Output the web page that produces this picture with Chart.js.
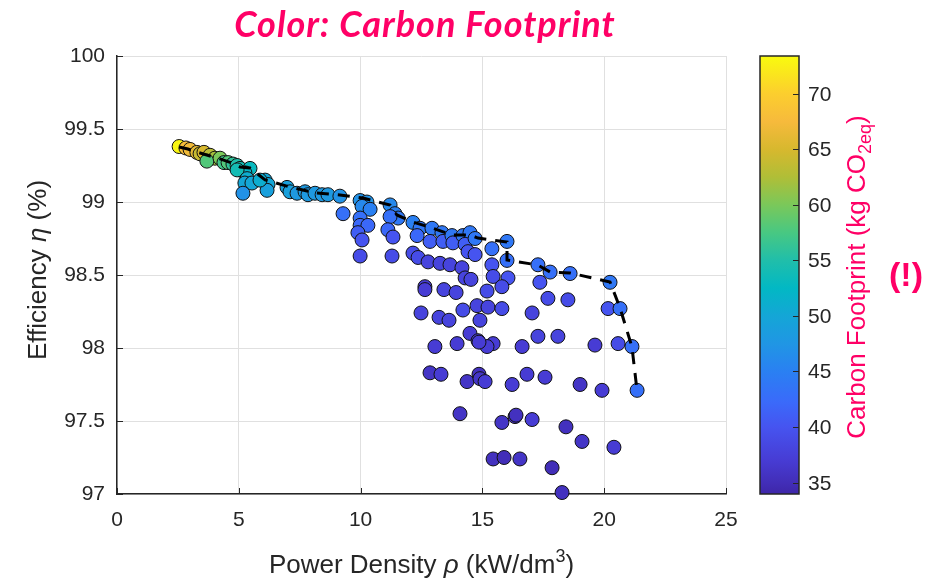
<!DOCTYPE html>
<html>
<head>
<meta charset="utf-8">
<script src="https://cdn.jsdelivr.net/npm/chart.js@4.4.1/dist/chart.umd.min.js"></script>
<style>
  html, body { margin: 0; padding: 0; background: #fff; overflow: hidden; }
  canvas { display: block; }
</style>
</head>
<body>
<canvas id="chart" width="932" height="580"></canvas>
<script>
// Design points: power density (kW/dm3), efficiency (%), carbon footprint (kg CO2eq)
const designDensity = [
  2.55, 2.83, 3.00, 3.28, 3.41, 3.57, 3.82, 4.02, 3.69, 4.23, 4.39, 4.56, 4.76, 4.93, 5.05, 5.46, 5.25, 4.93,
  5.34, 5.25, 5.54, 5.17, 6.08, 6.20, 6.16, 5.87, 6.98, 7.10, 7.39, 7.72, 7.84, 8.13, 8.42, 8.66, 9.15, 9.28,
  9.98, 10.26, 10.06, 10.39, 9.98, 9.98, 10.30, 9.89, 10.06, 9.98, 11.21, 11.41, 11.54, 11.21, 11.12, 11.33, 11.29,
  12.15, 12.44, 12.32, 12.93, 12.85, 13.34, 13.38, 13.75, 13.79, 14.20, 14.49, 14.29, 14.41, 14.70, 14.70,
  12.15, 12.36, 12.77, 13.26, 13.67, 14.16, 14.29, 14.53, 15.39, 15.39, 15.44, 16.01, 16.01, 16.05, 15.80,
  12.64, 12.64, 13.42, 13.92, 12.48, 13.22, 13.63, 14.78, 15.23, 15.80, 14.20, 14.90, 15.19,
  17.28, 17.78, 17.36, 18.60, 17.69, 18.51, 20.24, 20.16, 20.65, 17.04,
  14.49, 14.82, 15.44, 15.19, 13.05, 13.96, 14.86, 16.63, 17.28, 18.10, 19.62, 20.57, 21.14,
  12.85, 13.30, 14.37, 14.86, 14.90, 15.11, 16.22, 16.83, 17.57, 19.01, 19.91, 21.35,
  14.08, 15.80, 16.34, 16.38, 17.04, 18.43, 19.09, 20.40, 15.44, 15.89, 16.54, 17.86, 18.27
];
const designEfficiency = [
  99.38, 99.37, 99.36, 99.34, 99.33, 99.34, 99.32, 99.30, 99.28, 99.30, 99.27, 99.27, 99.26, 99.25, 99.23, 99.23, 99.20, 99.22,
  99.16, 99.13, 99.13, 99.06, 99.15, 99.12, 99.08, 99.15, 99.10, 99.07, 99.06, 99.07, 99.05, 99.06, 99.05, 99.05, 99.04, 98.92,
  99.01, 99.00, 98.97, 98.95, 98.89, 98.84, 98.84, 98.79, 98.74, 98.63, 98.98, 98.92, 98.89, 98.90, 98.81, 98.76, 98.63,
  98.86, 98.82, 98.77, 98.82, 98.73, 98.79, 98.73, 98.77, 98.72, 98.77, 98.79, 98.71, 98.66, 98.75, 98.64,
  98.65, 98.62, 98.59, 98.58, 98.57, 98.55, 98.48, 98.47, 98.68, 98.57, 98.49, 98.73, 98.60, 98.48, 98.42,
  98.42, 98.40, 98.40, 98.38, 98.24, 98.21, 98.19, 98.29, 98.28, 98.27, 98.26, 98.19, 98.39,
  98.57, 98.52, 98.45, 98.51, 98.34, 98.33, 98.45, 98.27, 98.27, 98.24,
  98.10, 98.05, 98.03, 98.01, 98.01, 98.03, 98.04, 98.01, 98.08, 98.08, 98.02, 98.03, 98.01,
  97.83, 97.82, 97.77, 97.82, 97.79, 97.77, 97.75, 97.82, 97.80, 97.75, 97.71, 97.71,
  97.55, 97.49, 97.53, 97.54, 97.51, 97.46, 97.36, 97.32, 97.24, 97.25, 97.24, 97.18, 97.01
];
const designCarbon = [
  73, 68, 67, 66, 64, 65, 63, 62, 58, 60, 57, 58, 56, 55, 54, 53, 52, 54,
  51, 50, 50, 47, 50, 50, 49, 51, 49, 49, 48, 48, 48, 48, 48, 48, 47, 43,
  47, 47, 46, 45, 43, 42, 42, 41, 40, 39, 46, 45, 44, 43, 42, 40, 39,
  45, 44, 42, 44, 41, 44, 41, 44, 41, 44, 44, 41, 40, 44, 40,
  39, 39, 38, 38, 38, 38, 38, 38, 43, 40, 39, 44, 43, 40, 39,
  37, 37, 38, 38, 38, 38, 38, 38, 38, 39, 39, 38, 39,
  43, 43, 40, 43, 39, 39, 44, 40, 43, 38,
  37, 37, 37, 37, 37, 37, 37, 37, 38, 38, 37, 39, 43,
  36, 37, 36, 35.5, 36, 37, 37, 37, 37, 36, 37, 43,
  36, 36, 35.5, 35.5, 37, 35.5, 36, 37, 35.5, 35, 36, 35, 35.5
];

// Pareto front through the best designs
const frontDensity = [
  2.55, 2.91, 3.28, 3.82, 4.23, 4.72, 5.05, 5.46, 6.08, 7.10, 8.13, 9.15, 10.10, 11.21, 11.49,
  12.15, 12.93, 13.75, 14.49, 14.82, 16.01, 16.01, 17.28, 17.78, 18.60, 20.24, 20.65, 21.14, 21.35
];
const frontEfficiency = [
  99.377, 99.363, 99.342, 99.315, 99.295, 99.267, 99.240, 99.233, 99.151, 99.103, 99.062, 99.048, 99.027, 98.979, 98.911,
  98.863, 98.822, 98.774, 98.774, 98.753, 98.726, 98.603, 98.568, 98.521, 98.514, 98.452, 98.274, 98.007, 97.705
];

const xTicks = [0, 5, 10, 15, 20, 25];
const yTicks = [97, 97.5, 98, 98.5, 99, 99.5, 100];
const carbonTicks = [35, 40, 45, 50, 55, 60, 65, 70];
const carbonRange = [33.98, 73.38];

// parula-like colormap, position 0..1 -> rgb
const parulaStops = [
  [0.000, 62, 38, 168], [0.026, 66, 46, 184], [0.077, 71, 60, 212], [0.153, 70, 84, 240],
  [0.210, 58, 106, 250], [0.280, 42, 128, 242], [0.343, 32, 150, 228], [0.407, 20, 166, 214],
  [0.470, 2, 184, 196], [0.533, 32, 190, 170], [0.597, 72, 200, 130], [0.660, 122, 200, 90],
  [0.724, 176, 190, 55], [0.787, 215, 184, 46], [0.850, 246, 186, 60], [0.914, 252, 206, 46],
  [1.000, 249, 251, 14]
];

function parula(v) {
  let t = (v - carbonRange[0]) / (carbonRange[1] - carbonRange[0]);
  t = Math.max(0, Math.min(1, t));
  for (let i = 1; i < parulaStops.length; i++) {
    const a = parulaStops[i - 1], b = parulaStops[i];
    if (t <= b[0]) {
      const f = (t - a[0]) / (b[0] - a[0]);
      const c = [1, 2, 3].map(k => Math.round(a[k] + (b[k] - a[k]) * f));
      return `rgb(${c[0]},${c[1]},${c[2]})`;
    }
  }
  return 'rgb(249,251,14)';
}

const AXIS = '#262626';
const PINK = '#ff0066';
const FONT = '"Liberation Sans", Arial, sans-serif';

// draws text made of differently styled runs (sub/superscripts, italic greek)
function drawRuns(ctx, runs, x, y) {
  let total = 0;
  runs.forEach(r => { ctx.font = r.font; r.w = ctx.measureText(r.text).width; total += r.w; });
  let cx = x - total / 2;
  runs.forEach(r => { ctx.font = r.font; ctx.fillText(r.text, cx, y + (r.dy || 0)); cx += r.w; });
}

const decor = {
  id: 'decor',
  afterDatasetsDraw(chart) {
    const { ctx, chartArea: a, scales } = chart;
    ctx.save();

    // inward tick marks
    ctx.strokeStyle = AXIS;
    ctx.lineWidth = 1;
    xTicks.forEach(v => {
      const px = Math.round(scales.x.getPixelForValue(v)) + 0.5;
      ctx.beginPath(); ctx.moveTo(px, a.bottom); ctx.lineTo(px, a.bottom - 6); ctx.stroke();
    });
    yTicks.forEach(v => {
      const py = Math.round(scales.y.getPixelForValue(v)) + 0.5;
      ctx.beginPath(); ctx.moveTo(a.left, py); ctx.lineTo(a.left + 6, py); ctx.stroke();
    });

    // colorbar
    const cb = scales.cb;
    const top = cb.getPixelForValue(carbonRange[1]);
    const bot = cb.getPixelForValue(carbonRange[0]);
    const left = 760, width = 39;
    const grad = ctx.createLinearGradient(0, bot, 0, top);
    parulaStops.forEach(s => grad.addColorStop(s[0], `rgb(${s[1]},${s[2]},${s[3]})`));
    ctx.fillStyle = grad;
    ctx.fillRect(left, top, width, bot - top);
    ctx.strokeStyle = AXIS;
    ctx.lineWidth = 1.5;
    ctx.strokeRect(left, top, width, bot - top);
    ctx.lineWidth = 1;
    ctx.fillStyle = AXIS;
    ctx.font = `21px ${FONT}`;
    ctx.textAlign = 'left';
    ctx.textBaseline = 'middle';
    carbonTicks.forEach(v => {
      const py = Math.round(cb.getPixelForValue(v)) + 0.5;
      ctx.beginPath(); ctx.moveTo(left + width, py); ctx.lineTo(left + width - 6, py); ctx.stroke();
      ctx.fillText(String(v), 808, py + 1);
    });

    ctx.textBaseline = 'alphabetic';
    ctx.textAlign = 'left';

    // x axis title
    ctx.fillStyle = AXIS;
    drawRuns(ctx, [
      { text: 'Power Density ', font: `26px ${FONT}` },
      { text: 'ρ', font: `italic 26px ${FONT}` },
      { text: ' (kW/dm', font: `26px ${FONT}` },
      { text: '3', font: `18px ${FONT}`, dy: -11 },
      { text: ')', font: `26px ${FONT}` }
    ], (a.left + a.right) / 2, 573);

    // y axis title
    ctx.save();
    ctx.translate(46, 270);
    ctx.rotate(-Math.PI / 2);
    drawRuns(ctx, [
      { text: 'Efficiency ', font: `26px ${FONT}` },
      { text: 'η', font: `italic 26px ${FONT}` },
      { text: ' (%)', font: `26px ${FONT}` }
    ], 0, 0);
    ctx.restore();

    // colorbar title
    ctx.fillStyle = PINK;
    ctx.save();
    ctx.translate(865, 277);
    ctx.rotate(-Math.PI / 2);
    drawRuns(ctx, [
      { text: 'Carbon Footprint (kg CO', font: `26px ${FONT}` },
      { text: '2eq', font: `18px ${FONT}`, dy: 6 },
      { text: ')', font: `26px ${FONT}` }
    ], 0, 0);
    ctx.restore();

    ctx.font = `bold 34px ${FONT}`;
    ctx.textAlign = 'center';
    ctx.textBaseline = 'middle';
    ctx.fillText('(!)', 906, 277);

    // chart title
    ctx.font = `italic bold 36px Lato, "Open Sans", sans-serif`;
    ctx.letterSpacing = '1px';
    ctx.textBaseline = 'alphabetic';
    ctx.fillText('Color: Carbon Footprint', 425, 37);

    ctx.restore();
  }
};

const designPoints = designDensity.map((x, i) => ({ x, y: designEfficiency[i] }));
const frontPoints = frontDensity.map((x, i) => ({ x, y: frontEfficiency[i] }));

new Chart(document.getElementById('chart'), {
  type: 'scatter',
  data: {
    datasets: [
      {
        type: 'line',
        label: 'Pareto front',
        data: frontPoints,
        borderColor: '#000',
        borderWidth: 3,
        borderDash: [12, 9],
        pointRadius: 0,
        fill: false,
        tension: 0,
        order: 0,
        clip: false
      },
      {
        label: 'Designs',
        data: designPoints,
        backgroundColor: designCarbon.map(parula),
        borderColor: '#111',
        borderWidth: 1,
        pointRadius: 7,
        pointHoverRadius: 7,
        order: 1,
        clip: false
      }
    ]
  },
  options: {
    responsive: false,
    animation: false,
    devicePixelRatio: 1,
    layout: { padding: { top: 56, right: 206, left: 0, bottom: 0 } },
    plugins: { legend: { display: false }, tooltip: { enabled: false }, title: { display: false } },
    scales: {
      x: {
        type: 'linear',
        min: 0, max: 25,
        afterBuildTicks: (s) => { s.ticks = xTicks.map(v => ({ value: v })); },
        afterFit: (s) => { s.height = 86; },
        grid: { color: '#e0e0e0', lineWidth: 1, drawTicks: false },
        border: { display: true, color: AXIS, width: 1.5 },
        ticks: { color: AXIS, font: { family: FONT, size: 21 }, padding: 14, maxRotation: 0 }
      },
      y: {
        type: 'linear',
        min: 97, max: 100,
        afterBuildTicks: (s) => { s.ticks = yTicks.map(v => ({ value: v })); },
        afterFit: (s) => { s.width = 117; },
        grid: { color: '#e0e0e0', lineWidth: 1, drawTicks: false },
        border: { display: true, color: AXIS, width: 1.5 },
        ticks: { color: AXIS, font: { family: FONT, size: 21 }, padding: 12, callback: (v) => String(v) }
      },
      cb: {
        type: 'linear',
        position: 'right',
        display: false,
        min: carbonRange[0], max: carbonRange[1]
      }
    }
  },
  plugins: [decor]
});
</script>
</body>
</html>
